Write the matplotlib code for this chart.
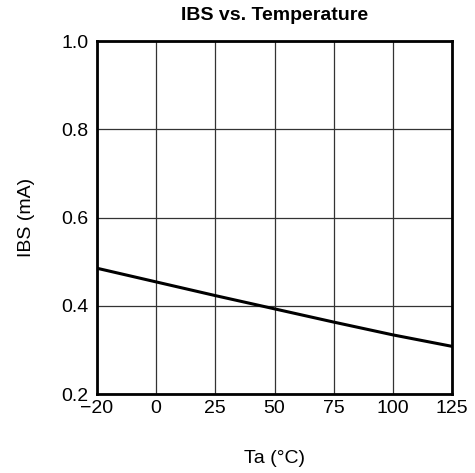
import matplotlib
matplotlib.use("Agg")
import matplotlib.pyplot as plt
import numpy as np

temps = [-20, 0, 25, 50, 75, 100, 125]
ibs = [0.485, 0.454, 0.423, 0.393, 0.363, 0.334, 0.308]
xticks = [-20, 0, 25, 50, 75, 100, 125]
xticklabels = ['\u221220', '0', '25', '50', '75', '100', '125']
yticks = [0.2, 0.4, 0.6, 0.8, 1.0]


def fwd(x):
    x = np.asarray(x, dtype=float)
    return np.where(x < 0, x * 1.25, x)


def inv(x):
    x = np.asarray(x, dtype=float)
    return np.where(x < 0, x / 1.25, x)


plt.rcParams['font.family'] = ['Liberation Sans', 'DejaVu Sans']
fig = plt.figure(figsize=(4.75, 4.73), dpi=100)
ax = fig.add_axes([97/475, 1-394/473, 355/475, 353/473])
ax.set_xscale('function', functions=(fwd, inv))
ax.plot(temps, ibs, color='black', lw=2.2)
ax.set_xlim(-20, 125)
ax.set_ylim(0.2, 1.0)
ax.set_xticks(xticks)
ax.set_xticklabels(xticklabels)
ax.set_yticks(yticks)
ax.set_yticklabels([f'{v:.1f}' for v in yticks])
ax.minorticks_off()
ax.grid(True, color='#333333', lw=0.9)
ax.tick_params(length=0, labelsize=14)
ax.tick_params(axis='x', pad=4)
ax.tick_params(axis='y', pad=6)
for s in ax.spines.values():
    s.set_linewidth(2)
    s.set_color('black')
ax.set_xlabel('Ta (\u00b0C)', fontsize=14, labelpad=24)
ax.set_ylabel('IBS (mA)', fontsize=14, labelpad=19)
ax.set_title('IBS vs. Temperature', fontsize=14, fontweight='bold', pad=15)
fig.savefig('out.png', dpi=100)
